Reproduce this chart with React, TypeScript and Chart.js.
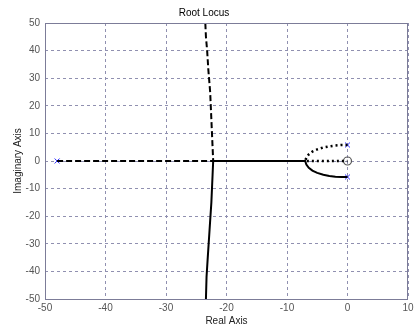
import React, { useEffect, useRef } from "react";
import { Chart, registerables } from "chart.js";

Chart.register(...registerables);

const xTicks = [-50, -40, -30, -20, -10, 0, 10];
const yTicks = [-50, -40, -30, -20, -10, 0, 10, 20, 30, 40, 50];

// Branch 1 (dashed): pole at -48 -> break-away -22.2 -> up
const branch1X = [-48, -22.2, -22.3, -22.5, -22.7, -23.0, -23.2, -23.4, -23.5];
const branch1Y = [0, 0, 5, 15, 25, 33, 40, 45, 50];

// Branch 2 (dotted): upper pole -> break-in -7 -> zero at origin
const branch2X = [0, -1, -2, -3, -4, -5, -5.8, -6.4, -6.8, -7, -3.5, 0];
const branch2Y = [5.8, 5.8, 5.6, 5.3, 4.9, 4.2, 3.4, 2.4, 1.3, 0, 0, 0];

// Branch 3 (solid): lower pole -> break-in -7 -> -22.2 -> down
const branch3X = [0, -1, -2, -3, -4, -5, -5.8, -6.4, -6.8, -7, -22.2, -22.3, -22.5, -22.8, -23.1, -23.3, -23.4];
const branch3Y = [-5.8, -5.8, -5.7, -5.4, -5.0, -4.3, -3.5, -2.5, -1.3, 0, 0, -5, -15, -25, -35, -42, -50];

const poleX = [-48, 0, 0];
const poleY = [0, 5.8, -5.8];
const zeroX = [0];
const zeroY = [0];

const pts = (xs: number[], ys: number[]) => xs.map((x, i) => ({ x, y: ys[i] }));

const frame = {
  id: "frame",
  afterDatasetsDraw(chart: any) {
    const { ctx, chartArea: a } = chart;
    ctx.save();
    ctx.strokeStyle = "#7c7c98";
    ctx.lineWidth = 1;
    ctx.setLineDash([]);
    ctx.strokeRect(a.left + 0.5, a.top + 0.5, a.right - a.left - 1, a.bottom - a.top);
    ctx.restore();
  },
};

export default function App() {
  const ref = useRef<HTMLCanvasElement>(null);
  useEffect(() => {
    if (!ref.current) return;
    const font = { family: "'Liberation Sans', Arial, sans-serif", size: 10 };
    const chart = new Chart(ref.current, {
      type: "scatter",
      data: {
        datasets: [
          {
            data: pts(branch1X, branch1Y),
            showLine: true,
            borderColor: "#000",
            borderWidth: 2,
            borderDash: [6, 3],
            pointRadius: 0,
            tension: 0,
          },
          {
            data: pts(branch2X, branch2Y),
            showLine: true,
            borderColor: "#000",
            borderWidth: 2.5,
            borderDash: [2, 3],
            pointRadius: 0,
            tension: 0,
          },
          {
            data: pts(branch3X, branch3Y),
            showLine: true,
            borderColor: "#000",
            borderWidth: 2,
            pointRadius: 0,
            tension: 0,
          },
          {
            data: pts(poleX, poleY),
            showLine: false,
            pointStyle: "crossRot",
            pointRadius: 3.5,
            borderColor: "#2a2aff",
            borderWidth: 1,
          },
          {
            data: pts(zeroX, zeroY),
            showLine: false,
            pointStyle: "circle",
            pointRadius: 4,
            borderColor: "#555",
            backgroundColor: "rgba(0,0,0,0)",
            borderWidth: 1.2,
          },
        ],
      },
      options: {
        responsive: false,
        animation: false,
        layout: { padding: { left: 0, right: 9, top: 0, bottom: 0 } },
        plugins: {
          legend: { display: false },
          tooltip: { enabled: false },
          title: {
            display: true,
            text: "Root Locus",
            color: "#000",
            font: { ...font, weight: "normal" },
            padding: { top: 7, bottom: 4 },
          },
        },
        scales: {
          x: {
            type: "linear",
            min: -50,
            max: 10,
            afterBuildTicks: (s: any) => {
              s.ticks = xTicks.map((v) => ({ value: v }));
            },
            afterFit: (s: any) => {
              s.height = 28;
            },
            ticks: { color: "#555", font, padding: 3, maxRotation: 0 },
            grid: { color: "#9090b0", lineWidth: 1, drawTicks: false },
            border: { display: false, dash: [3, 3] },
            title: {
              display: true,
              text: "Real Axis",
              color: "#222",
              font,
              padding: { top: 0, bottom: 0 },
            },
          },
          y: {
            type: "linear",
            min: -50,
            max: 50,
            afterBuildTicks: (s: any) => {
              s.ticks = yTicks.map((v) => ({ value: v }));
            },
            afterFit: (s: any) => {
              s.width = 45;
            },
            ticks: { color: "#555", font, padding: 5 },
            grid: { color: "#9090b0", lineWidth: 1, drawTicks: false },
            border: { display: false, dash: [3, 3] },
            title: {
              display: true,
              text: "Imaginary Axis",
              color: "#222",
              font,
              padding: { top: 12, bottom: 0 },
            },
          },
        },
      },
      plugins: [frame],
    } as any);
    return () => chart.destroy();
  }, []);
  return (
    <div style={{ position: "fixed", left: 0, top: 0, width: 417, height: 327, background: "#fff" }}>
      <canvas ref={ref} width={417} height={327} />
    </div>
  );
}
